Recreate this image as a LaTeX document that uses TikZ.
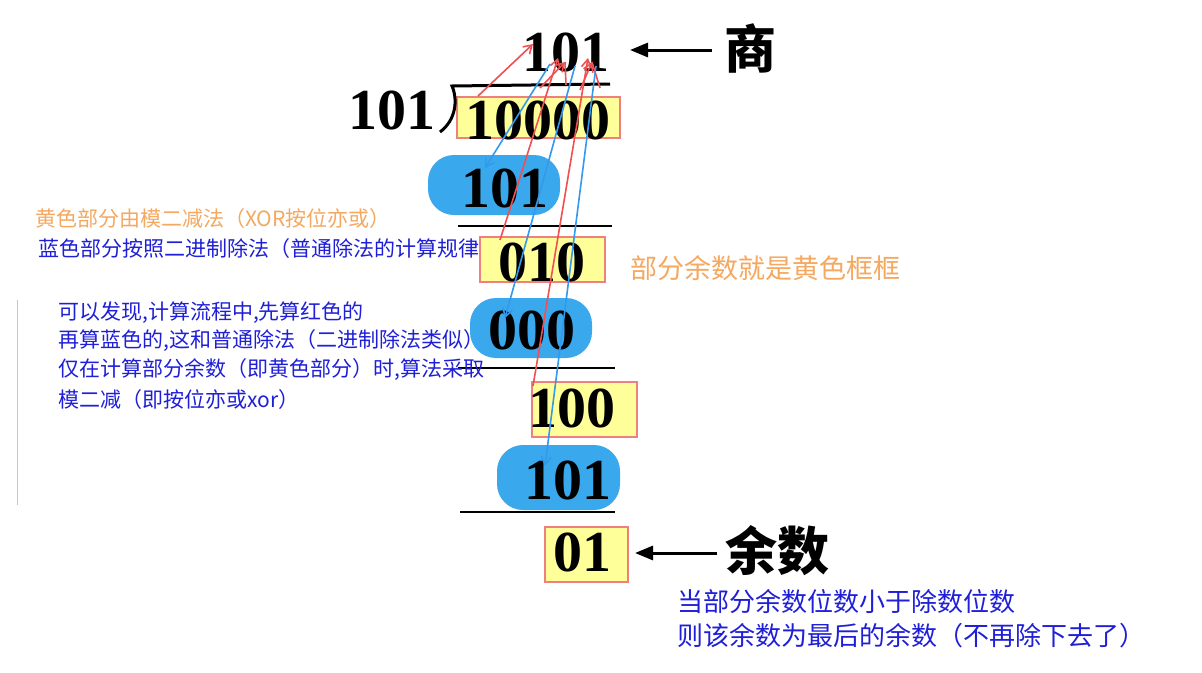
\documentclass[tikz,border=0pt]{standalone}
\usepackage{fontspec}
\setmainfont{Liberation Serif}
\newfontfamily\cjk{Noto Sans CJK SC}
\usetikzlibrary{arrows.meta}
\definecolor{ybox}{HTML}{FFFF99}
\definecolor{ybord}{HTML}{F08080}
\definecolor{bbox}{HTML}{3AA8EC}
\definecolor{otxt}{HTML}{F5A860}
\definecolor{btxt}{HTML}{1F1FD8}
\definecolor{rarr}{HTML}{F05050}
\definecolor{barr}{HTML}{3399EE}
\begin{document}
\begin{tikzpicture}[x=1pt,y=-1pt,
  big/.style={font=\bfseries\fontsize{58}{58}\selectfont, inner sep=0pt},
  yb/.style={draw=ybord, line width=2pt, fill=ybox},
  bb/.style={fill=bbox, rounded corners=26pt},
  rule/.style={line width=2.5pt},
  ctxt/.style={font=\cjk\fontsize{21}{21}\selectfont, anchor=west, inner sep=0pt},
  bigc/.style={font=\cjk\bfseries\fontsize{52}{52}\selectfont, inner sep=0pt},
  ra/.style={rarr, line width=1.6pt, -{Straight Barb[length=8pt,width=10pt]}},
  ba/.style={barr, line width=1.6pt, -{Straight Barb[length=8pt,width=10pt]}},
  ka/.style={line width=3pt, -{Triangle[length=18pt,width=14pt]}}]
\useasboundingbox (0,0) rectangle (1202,672);
\fill[white] (0,0) rectangle (1202,672);
% boxes
\draw[yb] (457,97) rectangle (620,138);
\fill[bb] (428,155) rectangle (560,215);
\draw[yb] (480,237) rectangle (605,282);
\fill[bb] (470,298) rectangle (592,358);
\draw[yb] (532,382) rectangle (637,437);
\fill[bb] (497,445) rectangle (620,510);
\draw[yb] (545,527) rectangle (628,582);
% numbers
\node[big] (q) at (566,52) {101};
\node[big] (dv) at (392,110) {101};
\node[big] (n1) at (538,120) {10000};
\node[big] (s1) at (505,188) {101};
\node[big] (n2) at (542,262) {010};
\node[big] (s2) at (532,330) {000};
\node[big] (n3) at (572,408) {100};
\node[big] (s3) at (568,480) {101};
\node[big] (r) at (582,552) {01};
% rules
\draw[line width=3pt] (440,132) .. controls (456,120) and (458,100) .. (452,86) -- (610,84);
\draw[rule] (458,226) -- (612,226);
\draw[rule] (458,368) -- (615,368);
\draw[rule] (460,512) -- (615,512);
% label arrows
\coordinate (a1) at (712,50);
\coordinate (a1e) at (630,50);
\coordinate (a2) at (717,553);
\coordinate (a2e) at (635,553);
\draw[ka] (a1) -- (a1e);
\node[bigc, anchor=west] (shang) at (724,48) {商};
\draw[ka] (a2) -- (a2e);
\node[bigc, anchor=west] (yu) at (725,551) {余数};
% red arrows
\coordinate (qa) at (533,44);
\coordinate (qb) at (565,62);
\coordinate (qc) at (592,62);
\coordinate (qd) at (550,64);
\coordinate (qe) at (575,66);
\coordinate (qf) at (596,66);
\draw[ra] (478,96) -- (qa);
\draw[ra] (540,88) -- (qb);
\draw[ra] (580,90) -- (qc);
\draw[ra] (500,240) -- (558,58);
\draw[ra] (533,386) -- (588,58);
\draw[rarr, line width=1.6pt] (566,85) -- (qb);
\draw[rarr, line width=1.6pt] (600,88) -- (qc);
% blue arrows
\draw[ba] (qd) -- (485,168);
\draw[ba] (qe) -- (505,318);
\draw[ba] (qf) -- (545,466);
% texts
\node[ctxt, text=otxt] (t1) at (35,219) {黄色部分由模二减法（XOR按位亦或）};
\node[ctxt, text=btxt] (t2) at (38,249) {蓝色部分按照二进制除法（普通除法的计算规律};
\node[ctxt, text=btxt] (t3) at (58,313) {可以发现,计算流程中,先算红色的};
\node[ctxt, text=btxt] (t4) at (58,341) {再算蓝色的,这和普通除法（二进制除法类似）};
\node[ctxt, text=btxt] (t5) at (58,370) {仅在计算部分余数（即黄色部分）时,算法采取};
\node[ctxt, text=btxt] (t6) at (58,400) {模二减（即按位亦或xor）};
\node[ctxt, text=otxt, font=\cjk\fontsize{27}{27}\selectfont] (t7) at (630,268) {部分余数就是黄色框框};
\node[ctxt, text=btxt, font=\cjk\fontsize{26}{26}\selectfont] (t8) at (677,602) {当部分余数位数小于除数位数};
\node[ctxt, text=btxt, font=\cjk\fontsize{26}{26}\selectfont] (t9) at (677,636) {则该余数为最后的余数（不再除下去了）};
\draw[ybord!60, line width=0.8pt] (17,300) -- (17,505);
\end{tikzpicture}
\end{document}
